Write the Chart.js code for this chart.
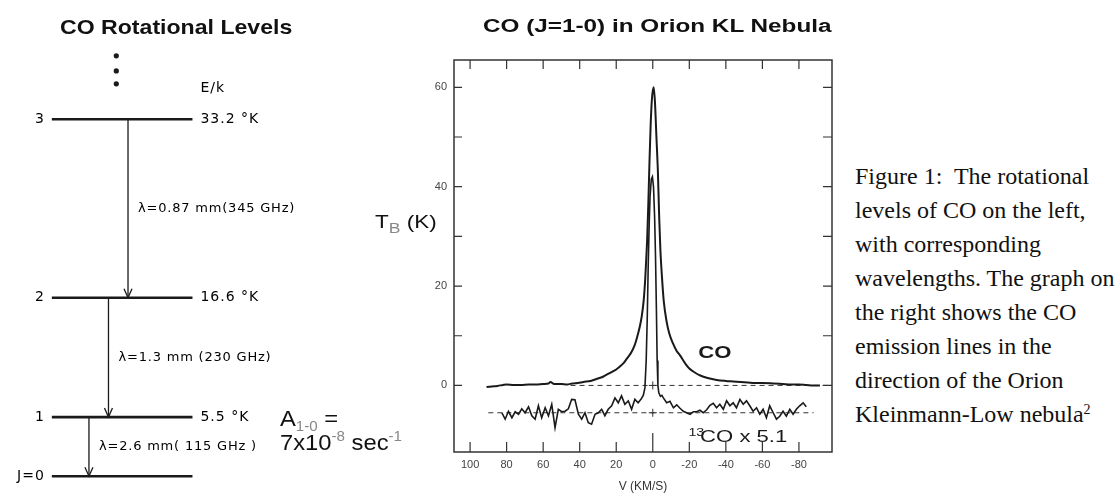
<!DOCTYPE html>
<html>
<head>
<meta charset="utf-8">
<script src="https://cdn.jsdelivr.net/npm/chart.js@4.4.1/dist/chart.umd.min.js"></script>
<style>
  body { margin: 0; width: 1117px; height: 494px; background: #fff; position: relative; overflow: hidden; }
  canvas { position: absolute; top: 0; }
  #levels { left: 0; }
  #spectrum { left: 330px; }
  .abs { position: absolute; white-space: nowrap; color: #111; }
  .head { font-family: 'Liberation Sans', Arial, sans-serif; font-weight: bold; transform-origin: left center; }
  #levelsTitle { left: 60px; top: 16px; font-size: 21px; line-height: 21px; transform: scaleX(1.1); }
  #specTitle { left: 483px; top: 17px; font-size: 18px; line-height: 18px; transform: scaleX(1.35); }
  #tb { left: 375px; top: 213px; font: 18px/18px 'Liberation Sans', Arial, sans-serif; transform: scaleX(1.25); transform-origin: left center; }
  .coef { left: 280px; font: 22px/24px 'Liberation Sans', Arial, sans-serif; transform: scaleX(1.08); transform-origin: left center; }
  .lo { font-size: 14px; color: #888; position: relative; top: 5px; }
  .hi { font-size: 14px; color: #888; position: relative; top: -9px; }
  #caption { left: 855px; top: 159px; font-family: 'Liberation Serif', 'Times New Roman', serif; font-size: 24px; line-height: 34px; }
  #caption .hi { font-size: 14px; color: #111; top: -8px; }
</style>
</head>
<body>
<canvas id="levels" width="340" height="494"></canvas>
<canvas id="spectrum" width="520" height="494"></canvas>

<div id="levelsTitle" class="abs head">CO Rotational Levels</div>
<div id="specTitle" class="abs head">CO (J=1-0) in Orion KL Nebula</div>
<div id="tb" class="abs">T<span class="lo">B</span> (K)</div>
<div class="abs coef" style="top:407px">A<span class="lo">1-0</span> =</div>
<div class="abs coef" style="top:431px">7x10<span class="hi">-8</span> sec<span class="hi">-1</span></div>
<div id="caption" class="abs">Figure 1:&nbsp; The rotational<br>levels of CO on the left,<br>with corresponding<br>wavelengths. The graph on<br>the right shows the CO<br>emission lines in the<br>direction of the Orion<br>Kleinmann-Low nebula<span class="hi">2</span></div>

<script>
// rotational levels (energy E/k in K)
const levelNames = ['J=0', '1', '2', '3'];
const levelEnergy = [0, 5.5, 16.6, 33.2];
const levelTempText = ['', '5.5 °K', '16.6 °K', '33.2 °K'];
// transition J -> J-1, index 0 is 1-0
const transitionText = ['λ=2.6 mm( 115 GHz )', 'λ=1.3 mm (230 GHz)', 'λ=0.87 mm(345 GHz)'];
const moreLevelsDots = [36.5, 37.7, 39.1];

// spectrum
const velocityTicks = [100, 80, 60, 40, 20, 0, -20, -40, -60, -80];
const tempTicks = [0, 10, 20, 30, 40, 50, 60];
const tempLabels = [0, 20, 40, 60];

const coVelocity = [91, 88, 85, 82, 80, 76, 72, 68, 64, 60, 57, 56, 54, 50, 47, 44, 41, 38, 34, 30,
  27, 25, 22, 20, 18, 16, 14, 12, 10, 8.5, 7, 6, 5, 4.2, 3.5, 3, 2.4, 1.8, 1.2, 0.5,
  -0.5, -1.2, -2, -2.8, -3.5, -4.2, -5, -6, -7.5, -9, -11, -13, -15, -18, -20, -23, -26, -30, -35, -40,
  -44, -48, -52, -56, -60, -66, -71, -76, -80, -84, -88, -91.5];
const coTemp = [-0.3, -0.2, -0.1, 0.1, 0.2, 0.1, 0.1, 0.2, 0.2, 0.3, 0.4, 0.7, 0.3, 0.3, 0.2, 0.4, 0.5, 0.7, 0.9, 1.4,
  1.8, 2.2, 2.8, 3.2, 3.8, 4.5, 5.5, 6.5, 8.0, 9.8, 12, 14, 17, 21, 26, 30, 37, 45, 52, 57.5,
  60, 57, 50, 43, 34, 27, 22, 17, 13, 10.5, 8.5, 7, 6, 4.3, 3.4, 2.6, 2.0, 1.5, 1.1, 0.9,
  0.8, 0.7, 0.6, 0.5, 0.5, 0.4, 0.3, 0.2, 0.2, 0.1, 0.0, 0.0];

const co13Velocity = [82.6, 80.8, 79.0, 77.1, 75.3, 73.5, 71.7, 69.9, 68.0, 66.2, 64.4, 62.6, 60.8, 58.9, 57.1,
  55.3, 53.5, 51.7, 49.8, 48.0, 46.2, 44.4, 42.6, 40.7, 38.9, 37.1, 35.3, 33.5, 31.6, 29.8,
  28.0, 26.2, 24.4, 22.5, 20.7, 18.9, 17.1, 15.3, 13.4, 11.6, 9.8, 8.0, 6.5, 5.2,
  4.3, 3.6, 3.0, 2.5, 2.0, 1.5, 0.8, 0.2, -0.4, -1.0, -1.5, -2.0, -2.4, -2.8, -3.3, -4.2, -5.0,
  -5.8, -7.6, -9.4, -11.3, -13.1, -14.9, -16.7, -18.5, -20.4, -22.2, -24.0, -25.8, -27.6, -29.5,
  -31.3, -33.1, -34.9, -36.7, -38.6, -40.4, -42.2, -44.0, -45.8, -47.7, -49.5, -51.3, -53.1, -54.9,
  -56.8, -58.6, -60.4, -62.2, -64.0, -65.9, -67.7, -69.5, -71.3, -73.1, -75.0, -76.8, -78.6, -80.4,
  -82.3, -84.0];
const co13Temp = [-5.5, -6.8, -5.2, -6.5, -5.3, -5.8, -4.7, -5.5, -4.3, -6.1, -6.8, -4.1, -6.5, -4.5, -6.1,
  -3.8, -8.5, -4.8, -5.3, -5.2, -4.7, -2.8, -2.9, -5.8, -6.8, -5.5, -7.5, -7.8, -5.8, -5.5,
  -4.8, -6.1, -4.8, -4.1, -2.5, -3.5, -2.1, -3.8, -3.1, -4.8, -2.8, -3.5, -2.8, -2.0,
  -0.5, 5, 14, 24, 32, 38, 41.5, 42, 40, 34, 26, 15, 5, 0, -1.5, -2.2, -2.0,
  -2.5, -3.5, -3.2, -4.5, -3.9, -4.6, -5.2, -5.5, -5.8, -5.3, -5.3, -5.0, -5.5, -4.9,
  -4.0, -3.6, -4.5, -3.8, -4.8, -3.1, -4.1, -3.5, -4.5, -2.8, -3.8, -3.1, -4.1, -5.2,
  -4.5, -5.8, -4.8, -6.5, -4.1, -5.5, -6.8, -6.2, -5.2, -6.2, -4.8, -5.8, -4.8, -4.1,
  -3.5, -4.3];
const co13Baseline = -5.5;

const INK = '#1a1a1a';

// ---------- level diagram ----------
const levelSpan = [49, 193];
const arrowX = [87, 107, 127];

const levelPlugin = {
  id: 'levelText',
  afterDatasetsDraw(chart) {
    const { ctx, scales: { x, y } } = chart;
    ctx.save();
    ctx.fillStyle = '#000';
    ctx.strokeStyle = INK;
    ctx.textBaseline = 'middle';
    ctx.letterSpacing = '1px';
    ctx.font = '14px "DejaVu Sans"';
    const left = x.getPixelForValue(levelSpan[0]);
    const right = x.getPixelForValue(levelSpan[1]);
    levelEnergy.forEach((e, i) => {
      const py = y.getPixelForValue(e);
      ctx.textAlign = 'right';
      ctx.fillText(levelNames[i], left - 7, py);
      ctx.textAlign = 'left';
      ctx.fillText(levelTempText[i], right + 8, py);
    });
    ctx.fillText('E/k', right + 8, y.getPixelForValue(levelEnergy[3]) - 31);

    ctx.font = '13px "DejaVu Sans"';
    ctx.letterSpacing = '0.8px';
    ctx.lineWidth = 1.3;
    transitionText.forEach((t, i) => {
      const px = x.getPixelForValue(arrowX[i]);
      const top = y.getPixelForValue(levelEnergy[i + 1]);
      const bot = y.getPixelForValue(levelEnergy[i]);
      ctx.fillText(t, px + 10, (top + bot) / 2);
      ctx.beginPath();
      ctx.moveTo(px - 4, bot - 9);
      ctx.lineTo(px, bot);
      ctx.lineTo(px + 4, bot - 9);
      ctx.stroke();
    });
    ctx.restore();
  }
};

const levelDatasets = levelEnergy.map(e => ({
  data: [{ x: levelSpan[0], y: e }, { x: levelSpan[1], y: e }],
  showLine: true, borderColor: INK, borderWidth: 2.6, pointRadius: 0
}));
const arrowDatasets = transitionText.map((t, i) => ({
  data: [{ x: arrowX[i], y: levelEnergy[i + 1] }, { x: arrowX[i], y: levelEnergy[i] }],
  showLine: true, borderColor: INK, borderWidth: 1.3, pointRadius: 0
}));

new Chart(document.getElementById('levels'), {
  type: 'scatter',
  data: {
    datasets: [...levelDatasets, ...arrowDatasets, {
      data: moreLevelsDots.map(e => ({ x: 115, y: e })),
      pointRadius: 2.6, pointBackgroundColor: INK, pointBorderWidth: 0
    }]
  },
  options: {
    responsive: false, animation: false, devicePixelRatio: 1,
    layout: { padding: 0 },
    plugins: { legend: { display: false }, tooltip: { enabled: false } },
    scales: {
      x: { display: false, min: 0, max: 340 },
      y: { display: false, min: -1.28, max: 43.92 }
    }
  },
  plugins: [levelPlugin]
});

// ---------- spectrum ----------
const framePlugin = {
  id: 'frame',
  afterDraw(chart) {
    const { ctx, chartArea: a, scales: { x, y } } = chart;
    ctx.save();
    ctx.strokeStyle = '#333';
    ctx.lineWidth = 1.5;
    ctx.strokeRect(a.left, a.top, a.width, a.height);
    ctx.lineWidth = 1.2;
    ctx.beginPath();
    x.ticks.forEach(t => {
      const px = x.getPixelForValue(t.value);
      ctx.moveTo(px, a.top); ctx.lineTo(px, a.top + 9);
      ctx.moveTo(px, a.bottom); ctx.lineTo(px, a.bottom - (t.value === 0 ? 19 : 10));
    });
    y.ticks.forEach(t => {
      const py = y.getPixelForValue(t.value);
      ctx.moveTo(a.left, py); ctx.lineTo(a.left + 8, py);
      ctx.moveTo(a.right, py); ctx.lineTo(a.right - 9, py);
    });
    ctx.stroke();
    ctx.restore();
  }
};

const annotatePlugin = {
  id: 'annotate',
  afterDatasetsDraw(chart) {
    const { ctx, scales: { x, y } } = chart;
    ctx.save();
    ctx.fillStyle = INK;
    ctx.textBaseline = 'middle';
    ctx.translate(x.getPixelForValue(-34), y.getPixelForValue(6.4));
    ctx.scale(1.3, 1);
    ctx.textAlign = 'center';
    ctx.font = 'bold 17px "Liberation Sans", Arial';
    ctx.fillText('CO', 0, 0);
    ctx.restore();

    ctx.save();
    ctx.fillStyle = INK;
    ctx.textBaseline = 'middle';
    ctx.translate(x.getPixelForValue(-19.5), y.getPixelForValue(-10.4));
    ctx.scale(1.3, 1);
    ctx.font = '11px "Liberation Sans", Arial';
    ctx.fillText('13', 0, -4);
    ctx.font = '17px "Liberation Sans", Arial';
    ctx.fillText('CO x 5.1', 9, 0);
    ctx.restore();
  }
};

const toPoints = (vs, ts) => vs.map((v, i) => ({ x: v, y: ts[i] }));
const tickFont = { size: 11, family: '"Liberation Sans", Arial' };

new Chart(document.getElementById('spectrum'), {
  type: 'scatter',
  data: {
    datasets: [
      { data: toPoints(coVelocity, coTemp), showLine: true, borderColor: INK, borderWidth: 2,
        pointRadius: 0, cubicInterpolationMode: 'monotone' },
      { data: toPoints(co13Velocity, co13Temp), showLine: true, borderColor: INK, borderWidth: 1.6,
        pointRadius: 0, tension: 0 },
      { data: [{ x: 45, y: 0 }, { x: -98, y: 0 }], showLine: true, borderColor: '#333', borderWidth: 1,
        borderDash: [5, 4], pointRadius: 0 },
      { data: [{ x: 90, y: co13Baseline }, { x: -88, y: co13Baseline }], showLine: true, borderColor: '#333',
        borderWidth: 1, borderDash: [5, 4], pointRadius: 0 },
      { data: [{ x: 0, y: 0 }, { x: 0, y: co13Baseline }], pointStyle: 'cross', pointRadius: 4,
        borderColor: '#333', borderWidth: 1 }
    ]
  },
  options: {
    responsive: false, animation: false, devicePixelRatio: 1,
    layout: { padding: { left: 94, right: 18, top: 60, bottom: 0 } },
    plugins: { legend: { display: false }, tooltip: { enabled: false } },
    scales: {
      x: {
        type: 'linear', reverse: true, min: -98.1, max: 108.8,
        afterBuildTicks: s => { s.ticks = velocityTicks.map(v => ({ value: v })); },
        afterFit: s => { s.height = 42; },
        grid: { display: false, drawTicks: false }, border: { display: false },
        ticks: { padding: 6, color: '#444', font: tickFont, maxRotation: 0, autoSkip: false },
        title: { display: true, text: 'V (KM/S)', color: '#333', font: { size: 12, family: '"Liberation Sans", Arial' },
          padding: { top: 0, bottom: 0 } }
      },
      y: {
        type: 'linear', min: -13.4, max: 65.5,
        afterBuildTicks: s => { s.ticks = tempTicks.map(v => ({ value: v })); },
        afterFit: s => { s.width = 30; },
        grid: { display: false, drawTicks: false }, border: { display: false },
        ticks: { padding: 7, color: '#444', font: tickFont,
          callback: v => tempLabels.includes(v) ? String(v) : '' }
      }
    }
  },
  plugins: [framePlugin, annotatePlugin]
});
</script>
</body>
</html>
